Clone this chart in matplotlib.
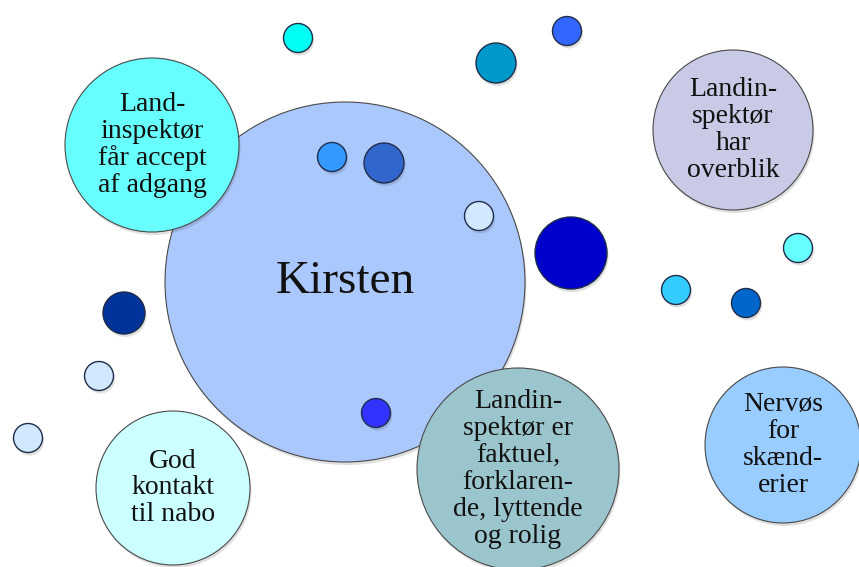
import matplotlib
matplotlib.use('Agg')
import matplotlib.pyplot as plt
from matplotlib.patches import Circle

# big labelled bubbles (pixel coords, y down)
big_labels = ['Kirsten', 'Land-\ninspektør\nfår accept\naf adgang',
              'Landin-\nspektør\nhar\noverblik',
              'Landin-\nspektør er\nfaktuel,\nforklaren-\nde, lyttende\nog rolig',
              'Nervøs\nfor\nskænd-\nerier', 'God\nkontakt\ntil nabo']
big_x = [345, 152, 733, 518, 783, 173]
big_y = [282, 145, 130, 469, 445, 488]
big_r = [180, 87, 80, 101, 78, 77]
big_colors = ['#abc8fd', '#66fffe', '#c8cae6', '#9bc5cc', '#99ccff', '#ccffff']
big_sizes = [34, 20, 20, 20, 20, 20]

# small unlabelled dots
dot_x = [298, 496, 567, 332, 384, 479, 571, 124, 99, 28, 376, 798, 676, 746]
dot_y = [38, 63, 31, 157, 163, 216, 253, 313, 376, 438, 413, 248, 290, 303]
dot_r = [14.5, 20, 14.5, 14.5, 20, 14.5, 36, 21, 14.5, 14.5, 14.5, 14.5, 14.5, 14.5]
dot_colors = ['#00fff5', '#0099cc', '#3366ff', '#3399ff', '#3366cc', '#d2e8ff',
              '#0000cc', '#003399', '#d2e8ff', '#d2e8ff', '#3333ff', '#66ffff',
              '#33ccff', '#0066cc']

W, H = 859, 567
fig = plt.figure(figsize=(W / 100, H / 100), dpi=100)
ax = fig.add_axes([0, 0, 1, 1])
ax.set_xlim(0, W)
ax.set_ylim(H, 0)
ax.set_aspect('equal')
ax.axis('off')

serif = ['Liberation Serif', 'DejaVu Serif']


def bubble(x, y, r, color, edge, lw, z):
    # soft drop shadow
    ax.add_patch(Circle((x + 1.5, y + 3), r, facecolor='#000000', alpha=0.12,
                        edgecolor='none', zorder=z - 0.5))
    ax.add_patch(Circle((x, y), r, facecolor=color, edgecolor=edge,
                        linewidth=lw, zorder=z))


for i in range(len(big_x)):
    bubble(big_x[i], big_y[i], big_r[i], big_colors[i], '#4a4a4a', 0.8, 2 + i)
    ax.text(big_x[i], big_y[i], big_labels[i], ha='center', va='center',
            fontsize=big_sizes[i], family=serif, color='#111111',
            linespacing=1.1, zorder=2.2 + i)

for i in range(len(dot_x)):
    bubble(dot_x[i], dot_y[i], dot_r[i], dot_colors[i], '#1f2d4a', 1.0, 20)

fig.savefig('out.png', dpi=100)
